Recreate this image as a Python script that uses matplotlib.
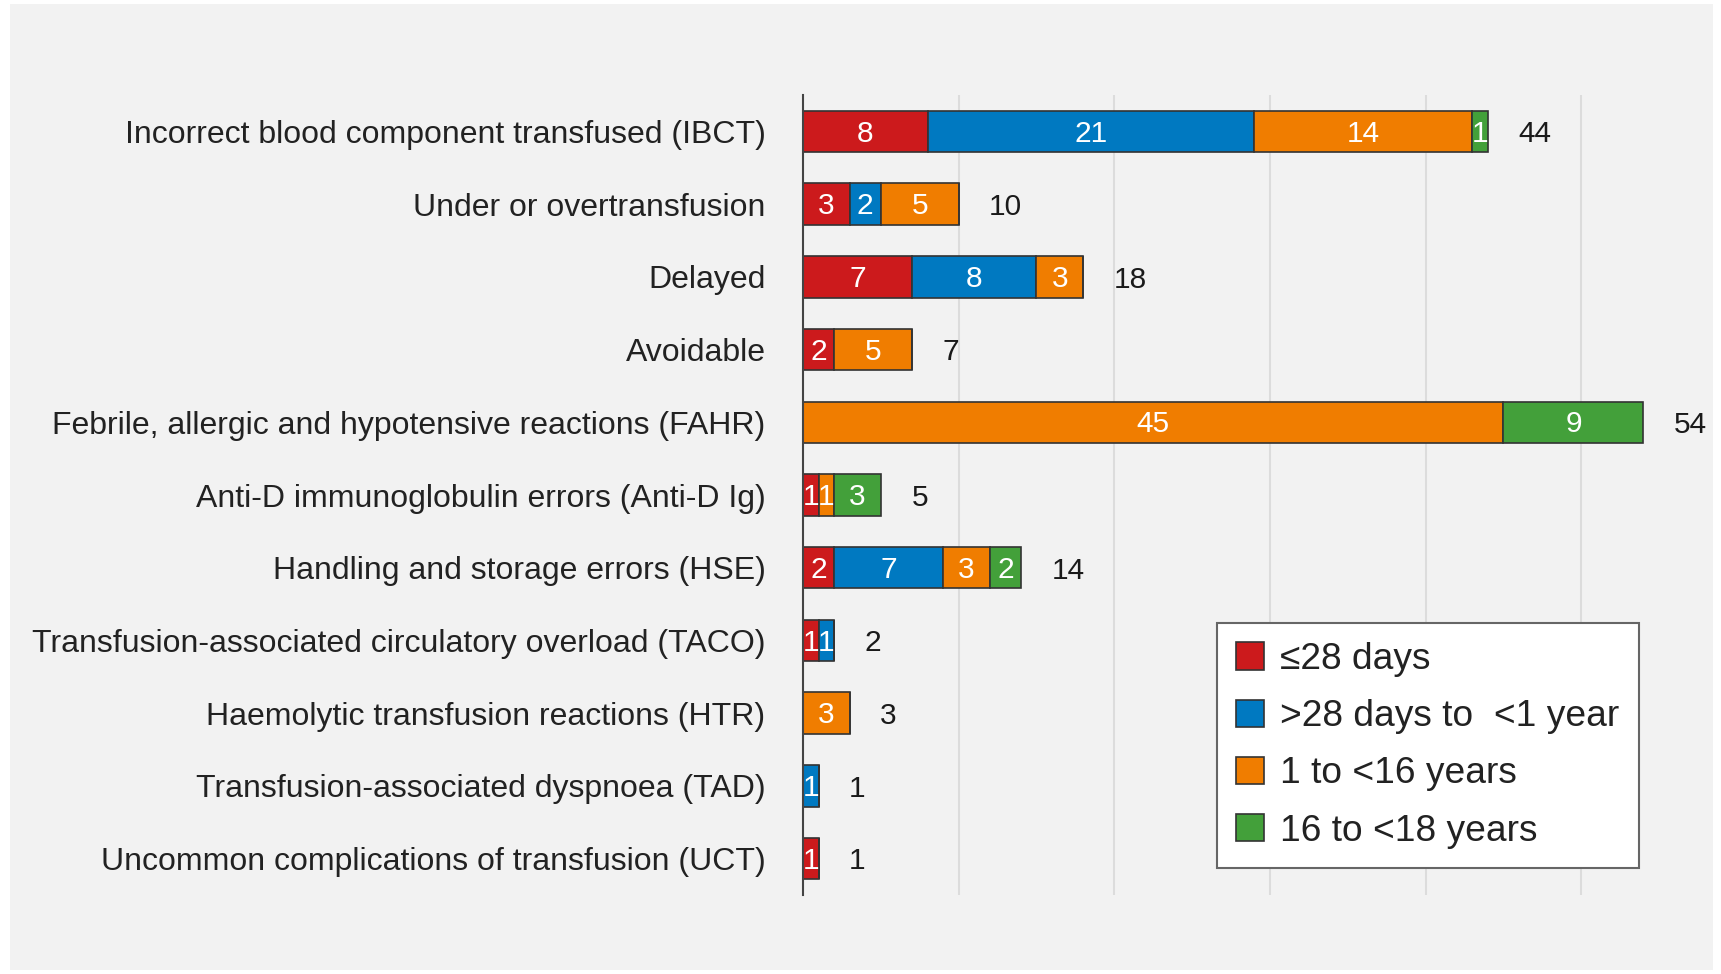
import matplotlib.pyplot as plt
from matplotlib.patches import Rectangle, Patch
import numpy as np

categories = [
    "Incorrect blood component transfused (IBCT)",
    "Under or overtransfusion",
    "Delayed",
    "Avoidable",
    "Febrile, allergic and hypotensive reactions (FAHR)",
    "Anti-D immunoglobulin errors (Anti-D Ig)",
    "Handling and storage errors (HSE)",
    "Transfusion-associated circulatory overload (TACO)",
    "Haemolytic transfusion reactions (HTR)",
    "Transfusion-associated dyspnoea (TAD)",
    "Uncommon complications of transfusion (UCT)",
]
le28_days = [8, 3, 7, 2, 0, 1, 2, 1, 0, 0, 1]
to_1_year = [21, 2, 8, 0, 0, 0, 7, 1, 0, 1, 0]
to_16_years = [14, 5, 3, 5, 45, 1, 3, 0, 3, 0, 0]
to_18_years = [1, 0, 0, 0, 9, 3, 2, 0, 0, 0, 0]

series_names = ["\u226428 days", ">28 days to  <1 year", "1 to <16 years", "16 to <18 years"]
colors = ["#cc1a1c", "#0079c1", "#f07d00", "#43a03a"]

plt.rcParams['font.family'] = ['Liberation Sans', 'DejaVu Sans']

fig = plt.figure(figsize=(17.21, 9.74), dpi=100)
fig.patch.set_facecolor("white")
fig.patches.append(Rectangle((10 / 1721, 1 - 970 / 974), 1703 / 1721, 966 / 974,
                             transform=fig.transFigure, facecolor="#f2f2f2",
                             edgecolor="none", zorder=-10))

ax = fig.add_axes([803 / 1721, 1 - 895 / 974, 856 / 1721, 800 / 974])
ax.set_facecolor("none")

data = np.array([le28_days, to_1_year, to_16_years, to_18_years])
y = np.arange(len(categories))
left = np.zeros(len(categories))

for vals, col in zip(data, colors):
    ax.barh(y, vals, left=left, height=0.57, color=col, edgecolor="#333333",
            linewidth=1.2, zorder=3)
    for yi, (l, v) in enumerate(zip(left, vals)):
        if v > 0:
            ax.text(l + v / 2, yi + 0.03, str(v), ha="center", va="center",
                    color="white", fontsize=21.5, zorder=4)
    left = left + vals

totals = data.sum(axis=0)
for yi, t in enumerate(totals):
    ax.annotate(str(t), (t, yi), xytext=(22, -2), textcoords="offset points",
                ha="left", va="center", fontsize=21.5, color="#1a1a1a")

ax.set_xlim(0, 55)
ax.set_ylim(len(categories) - 0.5, -0.5)
ax.set_yticks(y)
ax.set_yticklabels(categories, fontsize=23, color="#222222")
ax.tick_params(axis="y", length=0, pad=27)
ax.set_xticks([10, 20, 30, 40, 50])
ax.tick_params(axis="x", length=0, labelbottom=False)
ax.grid(axis="x", color="#dcdcdc", linewidth=1.5, zorder=1)
for s in ["top", "right", "bottom"]:
    ax.spines[s].set_visible(False)
ax.spines["left"].set_color("#444444")
ax.spines["left"].set_linewidth(1.5)
ax.spines["left"].set_zorder(5)

handles = [Patch(facecolor=c, edgecolor="#333333", linewidth=1.2) for c in colors]
leg = fig.legend(handles, series_names, loc="lower right",
                 bbox_to_anchor=(1639 / 1721, 1 - 868 / 974),
                 fontsize=26.7, frameon=True, fancybox=False,
                 handlelength=0.75, handleheight=0.75, handletextpad=0.45,
                 labelspacing=0.6, borderpad=0.52, borderaxespad=0)
leg.get_frame().set_edgecolor("#666666")
leg.get_frame().set_linewidth(1.5)
leg.get_frame().set_facecolor("white")
leg.get_frame().set_alpha(1)
for t in leg.get_texts():
    t.set_color("#222222")

fig.savefig("out.png", dpi=100)
